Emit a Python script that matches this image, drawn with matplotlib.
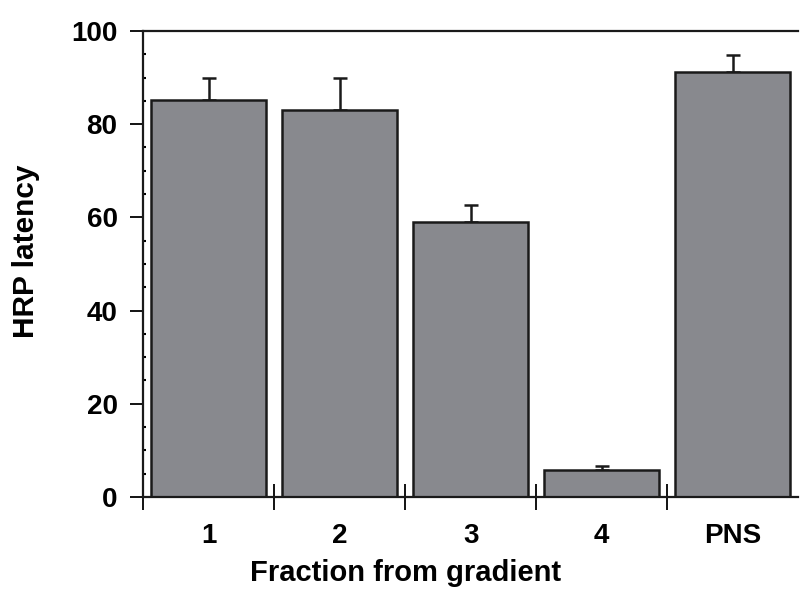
import matplotlib.pyplot as plt
import numpy as np

plt.rcParams["font.family"] = ["Liberation Sans", "DejaVu Sans"]
plt.rcParams["font.weight"] = "bold"

fractions = ["1", "2", "3", "4", "PNS"]
latency = [85.2, 83.0, 59.0, 5.8, 91.2]
latency_err = [4.7, 7.0, 3.7, 0.9, 3.6]

fig = plt.figure(figsize=(8, 5.9), dpi=100)
ax = fig.add_axes([0.179, 0.1576, 0.8185, 0.79])

x = np.arange(len(fractions))
ax.bar(
    x,
    latency,
    0.88,
    color="#88898e",
    edgecolor="#1a1a1a",
    linewidth=1.8,
    zorder=2,
)
ax.errorbar(
    x,
    latency,
    yerr=[np.zeros(len(x)), latency_err],
    fmt="none",
    ecolor="#1a1a1a",
    elinewidth=1.8,
    capsize=5,
    capthick=1.8,
    zorder=1,
)

ax.set_xlim(-0.5, len(fractions) - 0.5)
ax.set_ylim(0, 100)

# labels sit under the bars, tick marks sit between them
ax.set_xticks(x)
ax.set_xticklabels(fractions, fontsize=20, fontweight="bold")
ax.tick_params(axis="x", which="major", length=0, pad=19)
ax.set_xticks(np.arange(-0.5, len(fractions) - 0.5, 1.0), minor=True)
ax.tick_params(axis="x", which="minor", direction="inout", length=19, width=1.3)

ax.set_yticks(np.arange(0, 101, 20))
ax.set_yticks(np.arange(0, 101, 5), minor=True)
ax.tick_params(axis="y", which="major", direction="out", length=9.5, width=1.3,
               labelsize=20, pad=9)
ax.tick_params(axis="y", which="minor", direction="in", length=2, width=1.5)
for lab in ax.get_yticklabels():
    lab.set_fontweight("bold")

ax.spines["right"].set_visible(False)
for s in ["left", "bottom", "top"]:
    ax.spines[s].set_linewidth(1.6)
    ax.spines[s].set_color("#1a1a1a")

ax.set_xlabel("Fraction from gradient", fontsize=21, fontweight="bold")
ax.set_ylabel("HRP latency", fontsize=21.5, fontweight="bold")
ax.xaxis.set_label_coords(0.40, -0.134)
ax.yaxis.set_label_coords(-0.157, 0.528)

fig.savefig("out.png", dpi=100)
